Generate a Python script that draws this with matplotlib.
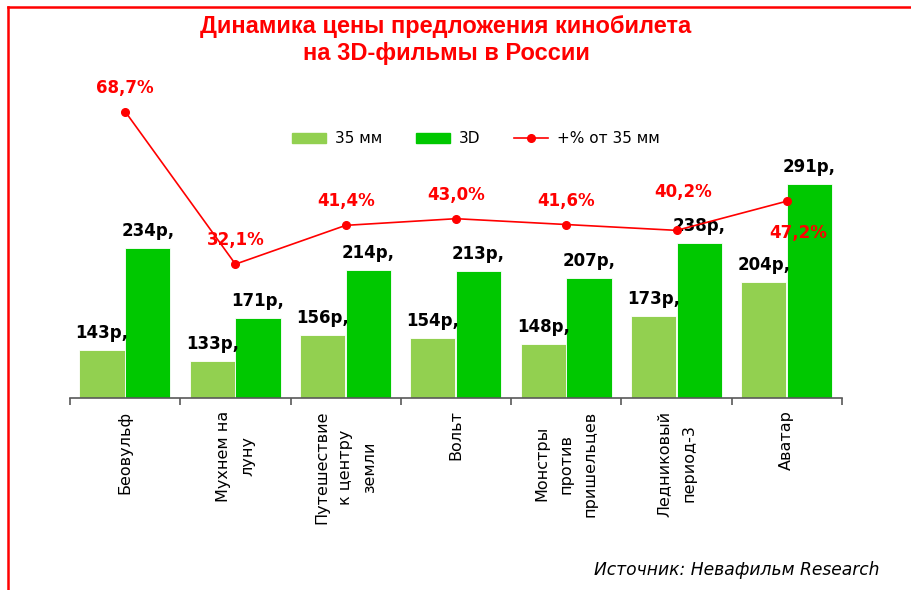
import matplotlib
matplotlib.use("Agg")
import matplotlib.pyplot as plt
from matplotlib.lines import Line2D
import numpy as np

# ---- data ----
films = ["Беовульф", "Мухнем на\nлуну", "Путешествие\nк центру\nземли", "Вольт",
         "Монстры\nпротив\nпришельцев", "Ледниковый\nпериод-3", "Аватар"]
price_35mm = [143, 133, 156, 154, 148, 173, 204]
price_3d = [234, 171, 214, 213, 207, 238, 291]
premium_pct = [68.7, 32.1, 41.4, 43.0, 41.6, 40.2, 47.2]

title = "Динамика цены предложения кинобилета\nна 3D-фильмы в России"
source = "Источник: Невафильм Research"
legend_labels = ["35 мм", "3D", "+% от 35 мм"]

# ---- style ----
C_LIGHT = "#92D050"
C_GREEN = "#00C800"
C_RED = "#FF0000"
W, H = 912, 590

fig = plt.figure(figsize=(W / 100, H / 100), dpi=100)
fig.patch.set_facecolor("white")

# axes in pixel geometry
ax_left, ax_right, ax_bottom, ax_top = 70, 842, 398, 100
ax = fig.add_axes([ax_left / W, (H - ax_bottom) / H,
                   (ax_right - ax_left) / W, (ax_bottom - ax_top) / H])
ax2 = ax.twinx()

x = np.arange(len(films))
bw = 0.41
ax.bar(x - 0.21, price_35mm, bw, color=C_LIGHT, edgecolor="white", linewidth=0.6, zorder=2)
ax.bar(x + 0.205, price_3d, bw, color=C_GREEN, edgecolor="white", linewidth=0.6, zorder=2)

ax.set_xlim(-0.5, len(films) - 0.5)
ax.set_ylim(100, 100 + (ax_bottom - ax_top) / 1.12)
ax2.set_ylim(0, (ax_bottom - ax_top) / 4.17)

for a in (ax, ax2):
    for s in ("top", "right", "left"):
        a.spines[s].set_visible(False)
    a.set_yticks([])
ax2.spines["bottom"].set_visible(False)
ax.spines["bottom"].set_color("#595959")
ax.spines["bottom"].set_linewidth(1.2)

# category ticks: marks at boundaries, labels at centers
ax.set_xticks(np.arange(len(films) + 1) - 0.5)
ax.set_xticklabels([])
ax.tick_params(axis="x", which="major", direction="out", length=5, width=1.2, color="#595959")
ax.set_xticks(x, minor=True)
ax.set_xticklabels(films, minor=True, rotation=90, fontsize=11.5, color="black",
                   multialignment="center", family="DejaVu Sans", linespacing=1.75)
ax.tick_params(axis="x", which="minor", length=0, pad=9)

# value labels
for xi, v in zip(x - 0.21, price_35mm):
    ax.annotate(f"{v}р,", (xi, v), xytext=(0, 17), textcoords="offset pixels",
                ha="center", va="center", fontsize=12, fontweight="bold", color="black", zorder=5)
for xi, v in zip(x + 0.205, price_3d):
    ax.annotate(f"{v}р,", (xi, v), xytext=(0, 17), textcoords="offset pixels",
                ha="center", va="center", fontsize=12, fontweight="bold", color="black", zorder=5)

# line on secondary axis
ax2.plot(x, premium_pct, color=C_RED, lw=1.2, marker="o", markersize=5.5, zorder=4)
pct_offsets = [(0, 24), (0, 24), (0, 24), (0, 24), (0, 24), (7, 38), (11, -32)]
for xi, v, off in zip(x, premium_pct, pct_offsets):
    ax2.annotate(f"{v:.1f}%".replace(".", ","), (xi, v), xytext=off, textcoords="offset pixels",
                 ha="center", va="center", fontsize=12, fontweight="bold", color=C_RED,
                 zorder=6, annotation_clip=False)

# legend
handles = [plt.Rectangle((0, 0), 1, 1, color=C_LIGHT),
           plt.Rectangle((0, 0), 1, 1, color=C_GREEN),
           Line2D([0], [0], color=C_RED, lw=1.2, marker="o", markersize=5.5)]
fig.legend(handles, legend_labels, loc="center", bbox_to_anchor=(476 / W, (H - 139) / H),
           ncol=3, frameon=False, fontsize=11, handlelength=2.2, handleheight=0.7,
           columnspacing=2.2, handletextpad=0.6)

# title
fig.text(446 / W, (H - 40) / H, title, ha="center", va="center", fontsize=17,
         fontweight="bold", color=C_RED, family="Liberation Sans", linespacing=1.25)

# source
fig.text(880 / W, (H - 570) / H, source, ha="right", va="center", fontsize=12.3,
         style="italic", color="black")

# red frame (top and left)
fig.add_artist(Line2D([8 / W, 1.0], [(H - 7) / H, (H - 7) / H], color=C_RED, lw=1.8,
                      transform=fig.transFigure))
fig.add_artist(Line2D([8 / W, 8 / W], [(H - 7) / H, 0.0], color=C_RED, lw=1.8,
                      transform=fig.transFigure))

fig.savefig("out.png", dpi=100, facecolor="white")
